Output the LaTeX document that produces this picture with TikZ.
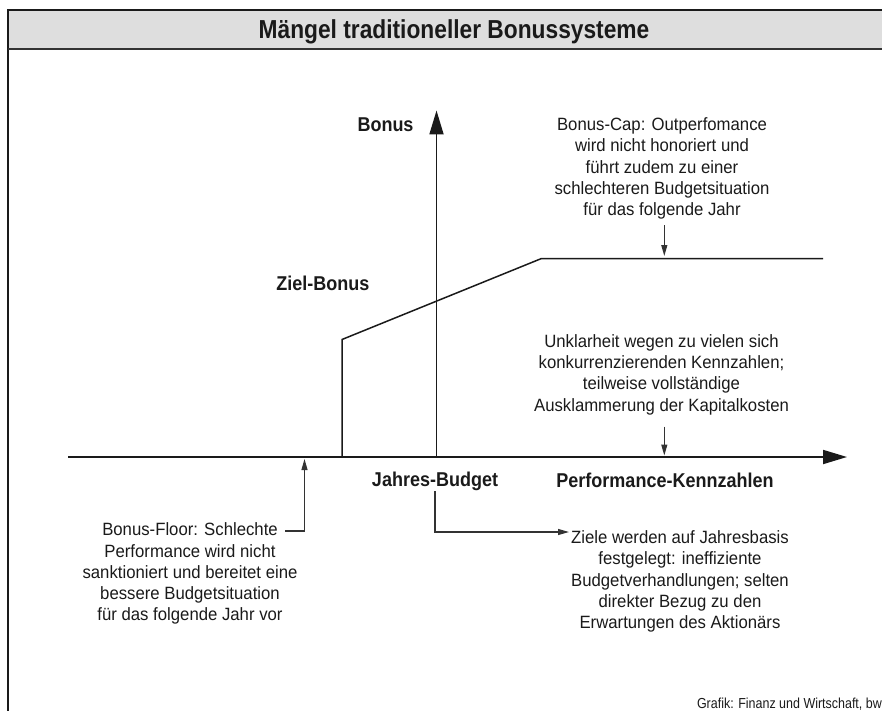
\documentclass[tikz,border=0pt]{standalone}
\usepackage{fontspec}
\setmainfont{Liberation Sans}
\newfontfamily\labelfont[FakeStretch=0.9]{Liberation Sans}
\newfontfamily\titlefont[FakeStretch=0.875]{Liberation Sans}
\newfontfamily\bodyfont[FakeStretch=0.94]{Liberation Sans}
\newfontfamily\srcfont[FakeStretch=0.86]{Liberation Sans}
\usetikzlibrary{arrows.meta}
\definecolor{barfill}{HTML}{DEDEDE}
\definecolor{ink}{HTML}{1A1A1A}
\definecolor{linegrey}{HTML}{333333}
\tikzset{
  axisline/.style={line width=1.8pt, draw=ink, -{Triangle[length=24pt,width=14pt]}},
  curveline/.style={line width=1.5pt, draw=ink},
  pointer/.style={line width=1.2pt, draw=linegrey, -{Triangle[length=11pt,width=6pt]}},
  bodytext/.style={inner sep=0pt, align=center, text=ink, font=\bodyfont\fontsize{17.8}{21.3}\selectfont},
  boldlabel/.style={inner sep=0pt, text=ink, font=\labelfont\bfseries\fontsize{20}{24}\selectfont},
}
\begin{document}
\begin{tikzpicture}[x=1pt,y=-1pt]
\useasboundingbox (0,0) rectangle (882,711);
% frame and title bar
\fill[barfill] (7.5,10) rectangle (882,49);
\draw[line width=2pt, draw=ink] (882,10) -- (7.5,10) -- (7.5,711);
\draw[line width=2pt, draw=linegrey] (7.5,49) -- (882,49);
\node[inner sep=0pt, anchor=base, text=ink, font=\titlefont\bfseries\fontsize{26}{30}\selectfont] (title) at (454,39) {Mängel traditioneller Bonussysteme};

% axes
\coordinate (O) at (436.5,457);
\coordinate (xs) at (68,457);
\coordinate (xe) at (847,457);
\coordinate (ye) at (436.5,110.5);
\draw[axisline] (xs) -- (xe);
\draw[axisline] (O) -- (ye);

% bonus curve
\coordinate (b0) at (342,457);
\coordinate (b1) at (342,339.5);
\coordinate (b2) at (541.5,258.5);
\coordinate (b3) at (823,258.5);
\draw[curveline, line join=miter] (b0) -- (b1) -- (b2) -- (b3);

% bold labels
\node[boldlabel, anchor=base] (bonus) at (385.5,132) {Bonus};
\node[boldlabel, anchor=base east] (ziel) at (369.5,290) {Ziel-Bonus};
\node[boldlabel, anchor=base] (jb) at (435,486.7) {Jahres-Budget};
\node[boldlabel, anchor=base] (perf) at (665,487) {Performance-Kennzahlen};

% Bonus-Cap
\node[bodytext, anchor=north] (cap) at (662,117.5) {Bonus-Cap: Outperfomance\\wird nicht honoriert und\\führt zudem zu einer\\schlechteren Budgetsituation\\für das folgende Jahr};
\coordinate (capa) at (664.3,225);
\coordinate (capt) at (664.3,256);
\draw[pointer] (capa) -- (capt);

% Unklarheit
\node[bodytext, anchor=north] (unkl) at (661.5,334) {Unklarheit wegen zu vielen sich\\konkurrenzierenden Kennzahlen;\\teilweise vollständige\\Ausklammerung der Kapitalkosten};
\coordinate (unka) at (664.3,426.7);
\coordinate (unkt) at (664.3,455.5);
\draw[pointer] (unka) -- (unkt);

% Bonus-Floor
\node[bodytext, anchor=north] (floor) at (190,522.6) {Bonus-Floor: Schlechte\\Performance wird nicht\\sanktioniert und bereitet eine\\bessere Budgetsituation\\für das folgende Jahr vor};
\coordinate (fla) at (285,531);
\coordinate (flt) at (304.5,459);
\draw[pointer] (fla) -| (flt);

% Ziele
\node[bodytext, anchor=north] (ziele) at (680,530.3) {Ziele werden auf Jahresbasis\\festgelegt: ineffiziente\\Budgetverhandlungen; selten\\direkter Bezug zu den\\Erwartungen des Aktionärs};
\coordinate (zt) at (569,532);
\draw[pointer] (jb.south) |- (zt);

% source
\node[inner sep=0pt, anchor=base east, text=ink, font=\srcfont\fontsize{14.5}{17}\selectfont] (src) at (882,708) {Grafik: Finanz und Wirtschaft, bw};
\end{tikzpicture}
\end{document}
